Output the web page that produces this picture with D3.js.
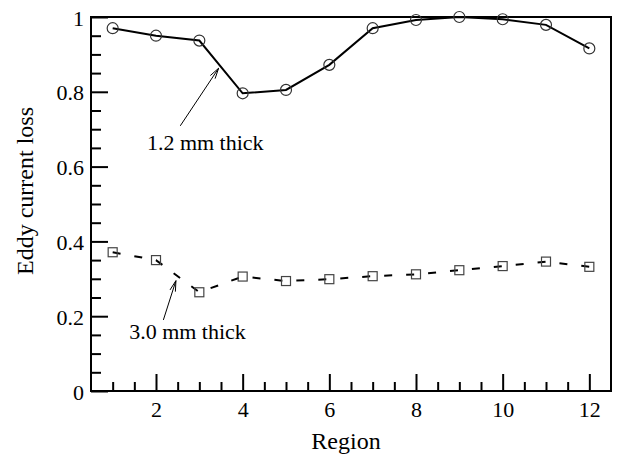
<!DOCTYPE html>
<html><head><meta charset="utf-8">
<script src="https://cdn.jsdelivr.net/npm/d3@7"></script>
<style>
body{margin:0;background:#fff;}
svg{display:block;font-family:"Liberation Serif","Times New Roman",serif;}
</style></head>
<body><svg id="c" width="618" height="456"></svg>
<script>
const regions = [1,2,3,4,5,6,7,8,9,10,11,12];
const thick12 = [0.970,0.950,0.937,0.796,0.805,0.872,0.970,0.992,1.000,0.994,0.979,0.916];
const thick30 = [0.371,0.350,0.264,0.306,0.294,0.299,0.307,0.312,0.323,0.334,0.346,0.332];
const xMajorTicks = [2,4,6,8,10,12];
const yMajorTicks = [0,0.2,0.4,0.6,0.8,1];
const yTickLabels = ["0","0.2","0.4","0.6","0.8","1"];
const xLabel = "Region";
const yLabel = "Eddy current loss";
const notes = [
  {text:"1.2 mm thick", tx:1.79, ty:0.644, ax0:2.56, ay0:0.709, ax1:3.445, ay1:0.863},
  {text:"3.0 mm thick", tx:1.38, ty:0.139, ax0:2.17, ay0:0.190, ax1:2.46, ay1:0.295}
];

const L=91, R=611, T=17, B=391;
const svg = d3.select("#c");
const x = d3.scaleLinear().domain([0.5,12.5]).range([L,R]);
const y = d3.scaleLinear().domain([0,1]).range([B,T]);

const xMinor = d3.range(1,12.01,0.5).filter(v=>!xMajorTicks.includes(v));
const yMinor = d3.range(0,1.001,0.05).map(v=>+v.toFixed(2)).filter(v=>!yMajorTicks.some(m=>Math.abs(m-v)<1e-6));

// minor ticks
svg.append("g").attr("transform",`translate(0,${B})`)
  .call(d3.axisBottom(x).tickValues(xMinor).tickSize(-9).tickFormat(""))
  .call(g=>g.select(".domain").remove())
  .selectAll("line").attr("stroke","#000").attr("stroke-width",2);
svg.append("g").attr("transform",`translate(${L},0)`)
  .call(d3.axisLeft(y).tickValues(yMinor).tickSize(-10).tickFormat(""))
  .call(g=>g.select(".domain").remove())
  .selectAll("line").attr("stroke","#000").attr("stroke-width",2);

// major ticks + labels
const gx = svg.append("g").attr("transform",`translate(0,${B})`)
  .call(d3.axisBottom(x).tickValues(xMajorTicks).tickSize(-17).tickPadding(0).tickFormat(d3.format("d")));
gx.select(".domain").remove();
gx.selectAll("line").attr("stroke","#000").attr("stroke-width",2);
gx.selectAll("text").attr("y",25.5).attr("dy",null).attr("font-size",22).attr("fill","#000")
  .attr("font-family","Liberation Serif");

const gy = svg.append("g").attr("transform",`translate(${L},0)`)
  .call(d3.axisLeft(y).tickValues(yMajorTicks).tickSize(-17).tickPadding(0).tickFormat((d,i)=>yTickLabels[i]));
gy.select(".domain").remove();
gy.selectAll("line").attr("stroke","#000").attr("stroke-width",2);
gy.selectAll("text").attr("x",-7).attr("dy",null).attr("y",8).attr("font-size",22).attr("fill","#000")
  .attr("font-family","Liberation Serif").attr("text-anchor","end");

// frame
svg.append("rect").attr("x",L).attr("y",T).attr("width",R-L).attr("height",B-T)
  .attr("fill","none").attr("stroke","#000").attr("stroke-width",2);

// series lines
const line = d3.line().x((d,i)=>x(regions[i])).y(d=>y(d));
svg.append("path").datum(thick12).attr("d",line).attr("fill","none")
  .attr("stroke","#000").attr("stroke-width",2);
svg.append("path").datum(thick30).attr("d",line).attr("fill","none")
  .attr("stroke","#000").attr("stroke-width",2).attr("stroke-dasharray","8,14");

// markers
svg.append("g").selectAll("circle").data(thick12).join("circle")
  .attr("cx",(d,i)=>x(regions[i])).attr("cy",d=>y(d)).attr("r",5.5)
  .attr("fill","none").attr("stroke","#333").attr("stroke-width",1.2);
svg.append("g").selectAll("rect").data(thick30).join("rect")
  .attr("x",(d,i)=>x(regions[i])-4.5).attr("y",d=>y(d)-4.5).attr("width",9).attr("height",9)
  .attr("fill","none").attr("stroke","#444").attr("stroke-width",1.2);

// annotations
notes.forEach(n=>{
  svg.append("text").attr("x",x(n.tx)).attr("y",y(n.ty)).attr("font-size",22).text(n.text);
  const x0=x(n.ax0), y0=y(n.ay0), x1=x(n.ax1), y1=y(n.ay1);
  svg.append("line").attr("x1",x0).attr("y1",y0).attr("x2",x1).attr("y2",y1)
    .attr("stroke","#000").attr("stroke-width",1);
  const ang=Math.atan2(y1-y0,x1-x0), hl=11, ha=0.26;
  const p = [[x1-hl*Math.cos(ang-ha), y1-hl*Math.sin(ang-ha)],[x1,y1],[x1-hl*Math.cos(ang+ha), y1-hl*Math.sin(ang+ha)]];
  svg.append("path").attr("d",d3.line()(p)).attr("fill","none").attr("stroke","#000").attr("stroke-width",1);
});

// axis titles
svg.append("text").attr("x",346).attr("y",449).attr("text-anchor","middle").attr("font-size",24).text(xLabel);
svg.append("text").attr("transform","translate(33,191) rotate(-90)").attr("text-anchor","middle").attr("font-size",24).text(yLabel);
</script></body></html>
